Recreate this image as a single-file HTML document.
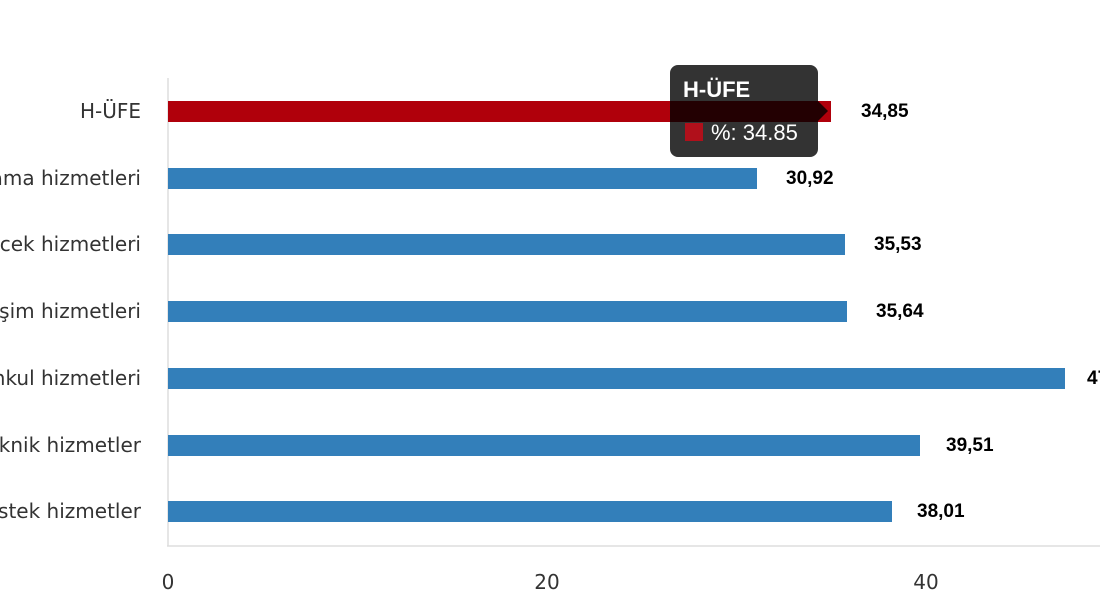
<!DOCTYPE html>
<html><head><meta charset="utf-8"><style>
html,body{margin:0;padding:0;background:#fff;width:1100px;height:600px;overflow:hidden}
svg{display:block}
.c{font-family:"DejaVu Sans","Liberation Sans",sans-serif;font-size:20px;fill:#333}
.v{font-family:"Liberation Sans",sans-serif;font-size:19px;font-weight:bold;fill:#000}
</style></head><body>
<svg width="1100" height="600" xmlns="http://www.w3.org/2000/svg">
<line x1="168" y1="78" x2="168" y2="546" stroke="#ddd" stroke-width="1.5"/>
<line x1="167" y1="546" x2="1100" y2="546" stroke="#ddd" stroke-width="1.5"/>
<g text-anchor="middle" class="c" style="font-size:20px">
<text x="168" y="589">0</text><text x="547" y="589">20</text><text x="926" y="589">40</text>
</g>
<g text-anchor="end" class="c">
<text x="141" y="118">H-ÜFE</text>
<text x="141" y="185">Bilgi ve iletişim ile konaklama hizmetleri</text>
<text x="141" y="251">Yiyecek ve içecek hizmetleri</text>
<text x="141" y="318">Ulaştırma ve iletişim hizmetleri</text>
<text x="141" y="385">Gayrimenkul hizmetleri</text>
<text x="141" y="452">Mesleki, bilimsel ve teknik hizmetler</text>
<text x="141" y="518">İdari ve destek hizmetler</text>
</g>
<rect x="168" y="101" width="663" height="21" fill="#b0000b"/>
<rect x="168" y="168" width="589" height="21" fill="#337fba"/>
<rect x="168" y="234" width="677" height="21" fill="#337fba"/>
<rect x="168" y="301" width="679" height="21" fill="#337fba"/>
<rect x="168" y="368" width="897" height="21" fill="#337fba"/>
<rect x="168" y="435" width="752" height="21" fill="#337fba"/>
<rect x="168" y="501" width="724" height="21" fill="#337fba"/>
<g class="v">
<text x="861" y="117">34,85</text>
<text x="786" y="184">30,92</text>
<text x="874" y="250">35,53</text>
<text x="876" y="317">35,64</text>
<text x="1087" y="384">47,26</text>
<text x="946" y="451">39,51</text>
<text x="917" y="517">38,01</text>
</g>
<path d="M678 65 H810 A8 8 0 0 1 818 73 V101 L828 111 L818 121 V149 A8 8 0 0 1 810 157 H678 A8 8 0 0 1 670 149 V73 A8 8 0 0 1 678 65 Z" fill="rgba(0,0,0,0.8)"/>
<text x="683" y="97" style="font-family:'Liberation Sans',sans-serif;font-size:22px;font-weight:bold;fill:#fff">H-ÜFE</text>
<rect x="685" y="123" width="18" height="18" fill="#b0101b"/>
<text x="711" y="140" style="font-family:'Liberation Sans',sans-serif;font-size:22px;fill:#fff">%: 34.85</text>
</svg>
</body></html>
